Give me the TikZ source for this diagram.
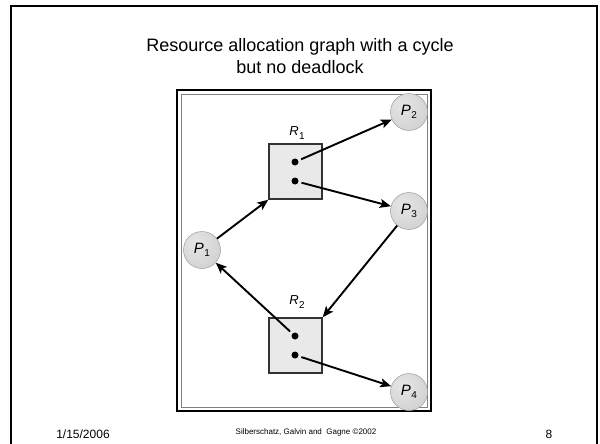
\documentclass[tikz,border=0pt]{standalone}
\usepackage{fontspec}
\setmainfont{Liberation Sans}
\usetikzlibrary{arrows.meta,shadings}
\pgfdeclareradialshading{procball}{\pgfpoint{-10bp}{10bp}}{color(0bp)=(gray!20); color(20bp)=(gray!29); color(40bp)=(gray!39); color(55bp)=(gray!53); color(70bp)=(gray!62)}
\newcommand{\lbl}[2]{\textit{#1}\kern0.5pt\raisebox{-3.5pt}{\fontsize{10}{10}\selectfont #2}}
\begin{document}
\begin{tikzpicture}[x=1pt,y=-1pt,
  proc/.style={circle,minimum size=37pt,inner sep=0pt,shading=procball,draw=gray!75,line width=0.5pt,font=\fontsize{15}{15}\selectfont},
  res/.style={draw=black!80,fill=gray!17,line width=1.4pt,minimum width=53pt,minimum height=55pt,inner sep=0pt},
  inst/.style={circle,fill=black,inner sep=0pt,minimum size=7pt},
  rlabel/.style={font=\fontsize{13}{13}\selectfont},
  edge/.style={line width=1.9pt,-{Stealth[length=11pt,width=9pt,inset=2.5pt]}},
  footer/.style={anchor=base,font=\fontsize{12}{12}\selectfont}
]
\useasboundingbox (0,0) rectangle (600,444);
\fill[white] (0,0) rectangle (600,444);
% slide frame
\draw[line width=2.5pt] (11,460) -- (11,6) -- (597,6) -- (597,460);
% title
\node[anchor=base,font=\fontsize{18}{18}\selectfont] (t1) at (300,52) {Resource allocation graph with a cycle};
\node[anchor=base,font=\fontsize{18}{18}\selectfont] (t2) at (300,74) {but no deadlock};
% picture frame
\draw[line width=2pt] (177,90) rectangle (431,411);
\draw[line width=0.8pt,gray] (181,94) rectangle (427,407);
% resources
\node[res] (R1) at (295.5,171.5) {};
\node[res] (R2) at (295.5,345.5) {};
\node[rlabel] (R1l) at (297,133) {\lbl{R}{1}};
\node[rlabel] (R2l) at (297,302) {\lbl{R}{2}};
\node[inst] (r1a) at (295,162) {};
\node[inst] (r1b) at (295,181) {};
\node[inst] (r2a) at (295,336) {};
\node[inst] (r2b) at (295,355) {};
% processes
\node[proc] (P1) at (202,250) {\lbl{P}{1}};
\node[proc] (P2) at (409,112) {\lbl{P}{2}};
\node[proc] (P3) at (409,211) {\lbl{P}{3}};
\node[proc] (P4) at (409,392) {\lbl{P}{4}};
% edges
\draw[edge] (P1) -- (R1.south west);
\draw[edge,shorten <=3pt] (r1a) -- (P2);
\draw[edge,shorten <=3pt] (r1b) -- (P3);
\draw[edge] (P3) -- (R2.north east);
\draw[edge,shorten <=3pt] (r2a) -- (P1);
\draw[edge,shorten <=3pt] (r2b) -- (P4);
% footer
\node[footer] (date) at (83,438) {1/15/2006};
\node[footer,font=\fontsize{8}{8}\selectfont] (copy) at (306,434) {Silberschatz, Galvin and\ \ Gagne \textcopyright2002};
\node[footer] (page) at (549,438) {8};
\end{tikzpicture}
\end{document}
